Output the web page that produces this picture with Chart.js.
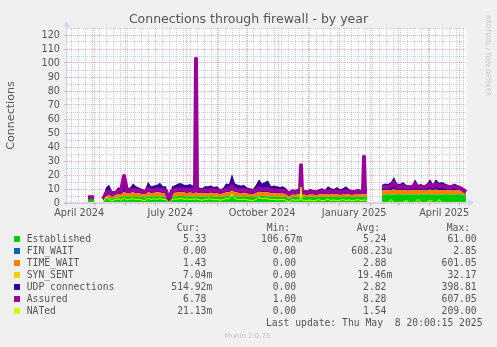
<!DOCTYPE html>
<html><head><meta charset="utf-8">
<script src="https://cdn.jsdelivr.net/npm/chart.js@4.4.0/dist/chart.umd.min.js"></script>
<style>
html,body{margin:0;padding:0;background:#F0F0F0;}
#wrap{position:relative;width:497px;height:347px;overflow:hidden;background:#F0F0F0;}
canvas{position:absolute;left:0;top:0;}
.t{position:absolute;white-space:pre;font-family:"DejaVu Sans Mono",monospace;font-size:9.72px;line-height:12px;color:#555555;}
.r{text-align:right;}
.sq{position:absolute;width:6px;height:6px;}
.wm{position:absolute;font-family:"DejaVu Sans",sans-serif;color:#c4c4c4;white-space:pre;}
</style></head>
<body><div id="wrap"><canvas id="c" width="497" height="347"></canvas><div id="legend"></div>
<div class="wm" style="left:0;width:495px;top:331px;font-size:7px;line-height:10px;text-align:center;">Munin 2.0.75</div>
<div class="wm" style="left:484px;top:15px;font-size:6.3px;line-height:8px;writing-mode:vertical-rl;">RRDTOOL / TOBI OETIKER</div>
</div>
<script>
// day offsets from start of the 400-day window (Apr 3 2024 20:00)
const days = [0,3,6,9,12,15,18,21,24,27,
 30,33,36,39,42,45,48,51,54,57,
 60,63,66,69,72,75,78,81,84,87,
 90,93,96,99,102,105,108,111,114,117,
 120,123,126,128,129,130,132,135,138,141,144,147,
 150,153,156,159,162,165,168,171,174,177,
 180,183,186,189,192,195,198,201,204,207,
 210,213,216,219,222,225,228,231,233,234,235,237,
 240,243,246,249,252,255,258,261,264,267,
 270,273,276,279,282,285,288,291,294,296,297,298,300,
 303,306,309,312,315,318,321,324,327,
 330,333,336,339,342,345,348,351,354,357,
 360,363,366,369,372,375,378,381,384,387,
 390,393,396,399];

const established = [null,null,null,null,null,null,null,3.2,3.4,3.3,
 null,null,1.0,2.8,3.5,3.0,3.8,4.0,4.2,4.8,
 4.5,4.6,4.8,4.4,4.6,4.2,4.0,4.8,4.6,4.7,
 4.9,4.6,4.5,4.3,1.2,4.4,4.7,4.9,5.0,4.8,
 4.6,4.7,4.5,4.6,5.2,4.6,4.6,4.4,4.5,4.6,4.8,4.7,
 4.5,4.2,4.4,4.8,5.0,5.4,4.9,4.7,4.6,4.8,
 4.5,4.3,4.2,4.6,4.9,5.0,4.8,4.7,4.5,4.6,
 4.4,4.5,4.3,4.2,3.0,4.3,4.2,4.4,4.4,5.0,4.3,4.3,
 4.2,4.4,4.3,4.1,4.2,4.4,4.3,4.5,4.4,4.2,
 4.3,4.1,4.2,4.4,4.3,4.2,4.4,4.3,4.5,4.5,4.6,4.5,4.4,
 null,null,null,null,6.0,6.1,6.2,6.0,6.1,
 6.3,6.2,6.0,6.1,6.2,6.1,6.0,6.2,6.3,6.1,
 6.0,6.2,6.1,6.2,6.0,6.1,6.3,6.2,6.1,6.0,
 6.2,6.1,6.0,5.3];

const finWait = [null,null,null,null,null,null,null,0,0,0,
 null,null,0,0,0,0,0,0,0,0,
 0,0,0,0,0,0,0,0,0,0,
 0,0,0,0,0,0,0,0,0,0,
 0,0,0,0,0,0,0,0,0,0,0,0,
 0,0,0,0,0,0,0,0,0,0,
 0,0,0,0,0,0,0,0,0,0,
 0,0,0,0,0,0,0,0,0,0,0,0,
 0,0,0,0,0,0,0,0,0,0,
 0,0,0,0,0,0,0,0,0,0,0,0,0,
 null,null,null,null,0,0,0,0,0,
 0,0,0,0,0,0,0,0,0,0,
 0,0,0,0,0,0,0,0,0,0,
 0,0,0,0];

const timeWait = [null,null,null,null,null,null,null,0.3,0.3,0.3,
 null,null,0.8,1.8,2.2,1.8,2.0,2.4,2.3,3.0,
 2.4,2.5,2.8,2.5,2.4,2.2,2.0,3.0,2.6,2.6,
 2.7,2.9,2.5,2.5,0.6,2.5,2.6,2.8,2.9,2.7,
 2.6,2.8,2.6,2.6,5.5,2.5,2.4,2.3,2.5,2.5,2.6,2.4,
 2.5,2.2,2.3,2.8,2.7,3.5,2.8,2.6,2.5,2.6,
 2.3,2.2,2.1,2.6,3.2,2.8,2.9,3.0,2.4,2.5,
 2.4,2.3,2.4,2.1,1.8,1.8,1.7,1.8,1.8,2.5,1.7,1.7,
 1.6,1.8,1.7,1.6,1.8,1.9,1.7,2.1,1.9,1.8,
 2.0,1.8,1.9,2.1,1.8,1.7,1.7,1.8,1.7,1.7,2.0,1.8,1.8,
 null,null,null,null,2.8,3.0,2.9,3.2,3.6,
 3.0,2.9,3.2,2.9,2.8,2.8,3.4,2.9,3.0,2.8,
 3.0,3.4,2.9,3.4,3.1,3.2,3.0,2.9,2.8,3.0,
 2.9,2.8,2.4,2.0];

const synSent = [null,null,null,null,null,null,null,0,0,0,
 null,null,0,0,0,0,0,0,0,0,
 0,0,0,0,0,0,0,0,0,0,
 0,0,0,0,0,0,0,0,0,0,
 0,0,0,0,0,0,0,0,0,0,0,0,
 0,0,0,0,0,0,0,0,0,0,
 0,0,0,0,0,0,0,0,0,0,
 0,0,0,0,0,0,0,0,0,0,0,0,
 0,0,0,0,0,0,0,0,0,0,
 0,0,0,0,0,0,0,0,0,0,0,0,0,
 null,null,null,null,0,0,0,0,0,
 0,0,0,0,0,0,0,0,0,0,
 0,0,0,0,0,0,0,0,0,0,
 0,0,0,0];

const udp = [null,null,null,null,null,null,null,1.7,1.7,1.4,
 null,null,2.2,6.4,7.6,3.7,2.2,4.8,4.0,7.4,
 3.6,3.9,6.4,5.1,4.0,3.6,3.3,7.4,4.8,5.2,
 5.4,7.0,5.0,5.2,0.6,5.1,5.3,6.3,6.4,5.5,
 5.7,6.0,5.4,5.3,5.3,4.5,4.0,3.8,5.0,4.9,5.1,4.4,
 5.0,3.6,3.8,6.4,5.8,11.8,6.3,5.7,5.4,5.6,
 4.2,4.0,3.7,5.8,8.8,6.2,7.3,8.3,5.1,5.4,
 5.2,4.7,5.3,4.2,3.2,3.7,3.6,3.8,3.8,6.5,3.6,3.5,
 3.2,3.8,3.5,3.3,3.8,4.2,3.5,5.4,4.2,4.0,
 5.2,3.9,4.4,5.5,3.9,3.3,3.4,3.9,3.3,3.4,4.4,3.6,3.8,
 null,null,null,null,4.2,4.9,4.4,5.8,8.9,
 4.7,4.4,5.8,4.0,3.6,3.6,7.6,3.9,4.2,3.6,
 5.0,7.4,4.5,7.4,5.4,5.7,4.7,3.9,3.6,5.0,
 3.9,3.1,1.6,0.7];

const assured = [null,null,null,null,null,null,null,4.0,4.2,4.0,
 null,null,2.8,6.8,8.0,6.0,7.3,8.2,8.3,19.3,
 8.6,9.0,9.6,8.8,8.8,8.2,7.8,10.0,9.0,9.2,
 9.5,9.8,8.8,8.7,2.2,8.8,9.2,9.6,9.8,9.4,
 9.2,9.4,9.0,9.0,103.0,8.9,8.8,8.5,8.9,9.0,9.3,8.9,
 8.9,8.2,8.5,9.6,9.6,12.0,9.6,9.2,9.0,9.3,
 8.6,8.4,8.2,9.1,10.5,9.8,9.6,10.0,8.8,9.0,
 8.7,8.7,8.6,8.2,6.5,7.8,7.6,7.8,7.9,27.0,7.6,7.6,
 7.4,7.9,7.7,7.4,7.8,8.2,7.7,8.5,8.0,7.8,
 8.2,7.6,7.9,8.4,7.8,7.5,7.8,7.8,7.9,7.9,33.0,7.9,7.9,
 null,null,null,null,11.0,11.5,11.3,12.0,14.5,
 11.6,11.3,12.0,11.2,11.0,11.0,13.5,11.3,11.6,11.0,
 11.8,13.5,11.3,13.5,12.0,12.2,11.6,11.3,11.0,11.8,
 11.2,10.8,9.5,7.8];

const nated = [null,null,null,null,null,null,null,0.3,0.3,0.3,
 null,null,0.5,4.5,2.5,1.5,2.5,3.0,2.0,3.5,
 2.2,2.8,3.0,2.4,2.8,2.0,1.8,3.5,2.5,3.0,
 2.6,3.2,2.4,2.6,0.3,2.4,3.0,2.8,3.4,2.6,
 3.0,2.5,2.8,2.6,3.5,2.5,2.4,2.0,2.6,2.8,3.0,2.2,
 2.6,2.0,2.4,3.2,2.8,6.5,3.0,2.6,2.4,2.8,
 2.2,2.0,1.8,2.6,4.0,3.0,3.4,3.0,2.4,2.6,
 2.2,2.4,2.6,2.0,0.5,2.5,2.0,2.2,2.0,11.5,2.0,2.0,
 1.8,2.2,1.5,2.0,2.4,1.6,2.0,2.6,1.8,2.2,
 1.5,2.0,2.4,1.8,2.2,1.6,2.0,2.4,1.8,2.0,2.2,2.0,2.0,
 null,null,null,null,0.5,0.3,0.2,2.5,0.3,
 0.2,0.4,0.3,1.8,0.2,0.3,0.4,2.6,0.3,0.2,
 0.4,2.2,0.3,0.3,2.4,0.3,0.2,0.4,0.3,0.2,
 0.3,0.4,0.2,0.3];

// x-axis grid: month starts (red), Mondays (grey), month-label positions
const monthLines = [27.17,58.17,88.17,119.17,150.17,180.17,211.17,241.17,272.17,303.17,331.17,362.17,392.17];
const weekLines = [4.17,11.17,18.17,25.17,32.17,39.17,46.17,53.17,60.17,67.17,74.17,81.17,88.17,95.17,102.17,109.17,116.17,123.17,130.17,137.17,144.17,151.17,158.17,165.17,172.17,179.17,186.17,193.17,200.17,207.17,214.17,221.17,228.17,235.17,242.17,249.17,256.17,263.17,270.17,277.17,284.17,291.17,298.17,305.17,312.17,319.17,326.17,333.17,340.17,347.17,354.17,361.17,368.17,375.17,382.17,389.17,396.17];
const tickLabels = ['April 2024','July 2024','October 2024','January 2025','April 2025'];
const tickLabelPos = [12.17,103.17,195.17,287.17,377.17];

// legend table
const seriesNames = ['Established','FIN_WAIT','TIME_WAIT','SYN_SENT','UDP connections','Assured','NATed'];
const seriesColors = ['#00CC00','#0066B3','#FF8000','#FFCC00','#330099','#990099','#CCFF00'];
const curVals = ['5.33','0.00','1.43','7.04m','514.92m','6.78','21.13m'];
const minVals = ['106.67m','0.00','0.00','0.00','0.00','1.00','0.00'];
const avgVals = ['5.24','608.23u','2.88','19.46m','2.82','8.28','1.54'];
const maxVals = ['61.00','2.85','601.05','32.17','398.81','607.05','209.00'];

const TXT = '#555555';
const MINOR = 'rgba(140,140,140,0.42)';
const MAJOR = 'rgba(228,80,80,0.42)';
const CLEAR = 'rgba(0,0,0,0)';

const xTicks = [];
monthLines.forEach(v => xTicks.push({value:v, kind:'month', text:''}));
weekLines.forEach(v => { if (!monthLines.some(m => Math.abs(m-v) < 0.6)) xTicks.push({value:v, kind:'week', text:''}); });
tickLabelPos.forEach((v,i) => xTicks.push({value:v, kind:'label', text:tickLabels[i]}));
xTicks.sort((a,b) => a.value - b.value);

const frame = {
  id:'frame',
  beforeDraw(chart){
    const {ctx, chartArea:a} = chart;
    ctx.save(); ctx.fillStyle = '#FFFFFF';
    ctx.fillRect(a.left, a.top, a.right-a.left, a.bottom-a.top);
    ctx.restore();
  },
  afterDatasetsDraw(chart){
    const {ctx, chartArea:a} = chart;
    ctx.save();
    ctx.strokeStyle = '#CFD6F8'; ctx.fillStyle = '#CFD6F8'; ctx.lineWidth = 1;
    const yb = Math.round(a.bottom) - 0.5, xl = Math.round(a.left) - 0.5;
    ctx.beginPath(); ctx.moveTo(a.left-3, yb); ctx.lineTo(a.right+2, yb); ctx.stroke();
    ctx.beginPath(); ctx.moveTo(xl, a.bottom+3); ctx.lineTo(xl, a.top-2); ctx.stroke();
    ctx.beginPath(); ctx.moveTo(a.right+7, yb); ctx.lineTo(a.right+1, yb-3.5); ctx.lineTo(a.right+1, yb+3.5); ctx.closePath(); ctx.fill();
    ctx.beginPath(); ctx.moveTo(xl, a.top-7); ctx.lineTo(xl-3.5, a.top-1); ctx.lineTo(xl+3.5, a.top-1); ctx.closePath(); ctx.fill();
    ctx.restore();
  }
};

const area = (label, data, color, fill) => ({label, data, backgroundColor:color, borderColor:color, borderWidth:0, fill, pointRadius:0, tension:0, stack:'conn', order:1});

new Chart(document.getElementById('c'), {
  type:'line',
  data:{
    labels: days,
    datasets:[
      area('Established', established, '#00CC00', 'origin'),
      area('FIN_WAIT', finWait, '#0066B3', '-1'),
      area('TIME_WAIT', timeWait, '#FF8000', '-1'),
      area('SYN_SENT', synSent, '#FFCC00', '-1'),
      area('UDP connections', udp, '#330099', '-1'),
      {label:'Assured', data:assured, borderColor:'#990099', backgroundColor:'#990099', borderWidth:4, borderJoinStyle:'round', fill:false, pointRadius:0, tension:0, stack:'assured', order:0},
      {label:'NATed', data:nated, borderColor:'#CCFF00', backgroundColor:'#CCFF00', borderWidth:1, borderJoinStyle:'round', fill:false, pointRadius:0, tension:0, stack:'nated', order:-1}
    ]
  },
  options:{
    responsive:false, animation:false, devicePixelRatio:1,
    layout:{padding:{left:0,right:0,top:0,bottom:124}},
    plugins:{
      legend:{display:false}, tooltip:{enabled:false},
      title:{display:true, text:'Connections through firewall - by year', color:TXT,
        font:{family:'DejaVu Sans', size:12.5, weight:'normal'}, padding:{top:12,bottom:1}}
    },
    scales:{
      x:{
        type:'linear', min:0, max:400,
        afterBuildTicks: s => { s.ticks = xTicks.map(t => ({value:t.value, kind:t.kind, text:t.text})); },
        afterFit: s => { s.height = 20; },
        grid:{
          color: c => (c.tick && c.tick.kind==='month') ? MAJOR : (c.tick && c.tick.kind==='week') ? MINOR : CLEAR,
          lineWidth:1, drawTicks:true, tickLength:3,
          tickColor: c => (c.tick && c.tick.kind==='month') ? MAJOR : CLEAR
        },
        border:{display:false, dash:[1,1]},
        ticks:{autoSkip:false, maxRotation:0, minRotation:0, padding:2, color:TXT,
          font:{family:'DejaVu Sans', size:9.72},
          callback:(v,i,t) => (t[i] && t[i].text) ? t[i].text : ''}
      },
      y:{
        type:'linear', min:0, max:125, stacked:true,
        afterFit: s => { s.width = 67; },
        ticks:{stepSize:5, autoSkip:false, padding:4, color:TXT, font:{family:'DejaVu Sans', size:9.72},
          callback: v => (v % 10 === 0 && v <= 120) ? String(v) : ''},
        grid:{color: c => (c.tick && c.tick.value % 10 === 0) ? MAJOR : MINOR, lineWidth:1, tickLength:3,
          tickColor: c => (c.tick && c.tick.value % 10 === 0) ? MAJOR : CLEAR},
        border:{display:false, dash:[1,1]},
        title:{display:true, text:'Connections', color:TXT, font:{family:'DejaVu Sans', size:11.1}, padding:{top:4,bottom:0}}
      },
      yR:{
        position:'right', display:true, min:0, max:125,
        grid:{display:false, drawTicks:false}, ticks:{display:false}, border:{display:false},
        afterFit: s => { s.width = 30; }
      }
    }
  },
  plugins:[frame]
});

// HTML legend (real text)
const L = document.getElementById('legend');
function add(cls, style, text){ const d=document.createElement('div'); d.className=cls; d.setAttribute('style',style); d.textContent=text; L.appendChild(d); }
function pad(s){ return /[0-9]$/.test(s) ? s + ' ' : s; }
add('t', 'left:176.7px;top:222px;', 'Cur:');
add('t', 'left:266.7px;top:222px;', 'Min:');
add('t', 'left:356.7px;top:222px;', 'Avg:');
add('t', 'left:446.7px;top:222px;', 'Max:');
seriesNames.forEach((n,i) => {
  const cy = 239.3 + 12*i;
  const top = (cy - 6.3).toFixed(1);
  const sq = document.createElement('div'); sq.className='sq';
  sq.style.left='14px'; sq.style.top=(cy-3).toFixed(1)+'px'; sq.style.background=seriesColors[i]; L.appendChild(sq);
  add('t', 'left:26.7px;top:'+top+'px;', n);
  add('t r', 'right:'+(497-212.3)+'px;top:'+top+'px;', pad(curVals[i]));
  add('t r', 'right:'+(497-302)+'px;top:'+top+'px;', pad(minVals[i]));
  add('t r', 'right:'+(497-392.3)+'px;top:'+top+'px;', pad(avgVals[i]));
  add('t r', 'right:'+(497-482.5)+'px;top:'+top+'px;', pad(maxVals[i]));
});
add('t r', 'right:'+(497-482.5)+'px;top:317px;', 'Last update: Thu May  8 20:00:15 2025');
</script>
</body></html>
